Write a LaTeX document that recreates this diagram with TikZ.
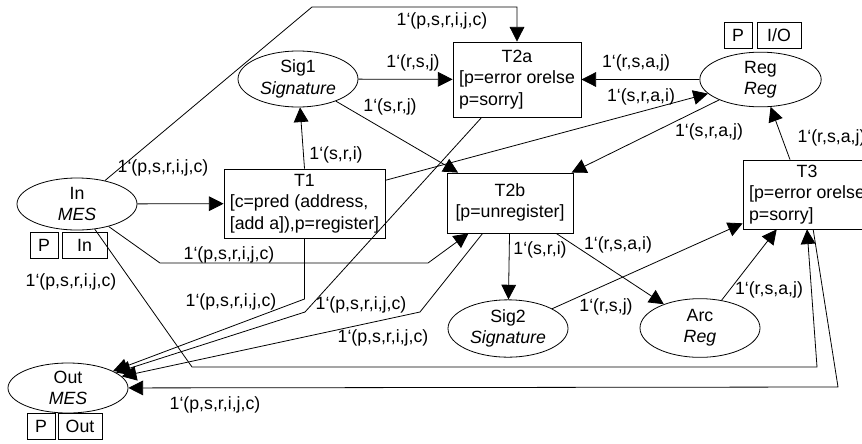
\documentclass[tikz,border=0pt]{standalone}
\usepackage{fontspec}
\setmainfont{Liberation Sans}
\usetikzlibrary{arrows.meta,shapes.geometric}
\begin{document}
\begin{tikzpicture}[x=0.75pt,y=-0.75pt,line width=0.6pt,
  every node/.style={font=\fontsize{13.3}{16}\selectfont},
  place/.style={draw,ellipse,align=center,inner xsep=0pt,inner ysep=-2pt,minimum width=90pt,minimum height=42pt},
  trans/.style={draw,rectangle,inner sep=0pt},
  port/.style={draw,rectangle,inner sep=0pt,minimum height=19.5pt},
  flow/.style={-{Triangle[length=11pt,width=11pt]}},
  inscr/.style={inner sep=0pt}]
\useasboundingbox (0,0) rectangle (862,443);
\clip (0,0) rectangle (862,443);

\node[place,minimum height=39pt] (In) at (77,204) {In\\\textit{MES}};
\node[place,minimum height=37.5pt] (Out) at (68,388) {Out\\\textit{MES}};
\node[place] (Sig1) at (298,79) {Sig1\\\textit{Signature}};
\node[place,minimum width=91pt,minimum height=41pt] (Reg) at (760.5,79.5) {Reg\\\textit{Reg}};
\node[place,minimum height=43pt] (Sig2) at (508,328.5) {Sig2\\\textit{Signature}};
\node[place,minimum height=44pt] (Arc) at (700,328) {Arc\\\textit{Reg}};

\node[trans,minimum width=120.75pt,minimum height=51.75pt] (T1) at (304.5,203.5)
  {\begin{tabular}{@{}l@{}}\multicolumn{1}{@{}c@{}}{T1}\\ {[}c=pred (address,\\ {[}add a]),p=register]\end{tabular}};
\node[trans,minimum width=96pt,minimum height=56.25pt] (T2a) at (517,79.5)
  {\begin{tabular}{@{}l@{}}\multicolumn{1}{@{}c@{}}{T2a}\\ {[}p=error orelse\\ p=sorry]\end{tabular}};
\node[trans,minimum width=94.5pt,minimum height=45pt] (T2b) at (510,203)
  {\begin{tabular}{@{}c@{}}T2b\\ {[}p=unregister]\end{tabular}};
\node[trans,minimum width=96pt,minimum height=51.75pt] (T3) at (807,194.5)
  {\begin{tabular}{@{}l@{}}\multicolumn{1}{@{}c@{}}{T3}\\ {[}p=error orelse\\ p=sorry]\end{tabular}};

\node[port,minimum width=21pt] (InP) at (44,245) {P};
\node[port,minimum width=33.75pt] (InPort) at (84.5,245) {In};
\node[port,minimum width=21pt] (OutP) at (41,426.5) {P};
\node[port,minimum width=33pt] (OutPort) at (80,426.5) {Out};
\node[port,minimum width=21pt] (RegP) at (738,35.5) {P};
\node[port,minimum width=33pt] (RegPort) at (779,35.5) {I/O};

\draw[flow] (In) -- (312,7) -| (T2a);
\draw[flow] (In) -- (T1);
\draw[flow] (In) -- (160,263) -- (428,263) -- (T2b);
\draw[flow] (In) -- (192,367) -- (817,367) -- (T3.south);
\draw[flow] (T3.-80) -- (838,387) -- (Out);
\draw[flow] (T1.north) -- (Sig1);
\draw[flow] (T1.16) -- (Reg);
\draw[flow] (T1.south) -- (304.5,299) -- (Out);
\draw[flow] (T2a.-133) -- (305,312) -- (Out);
\draw[flow] (T2b.-132) -- (420,312) -- (Out);
\draw[flow] (Sig1) -- (T2a);
\draw[flow] (Sig1) -- (T2b);
\draw[flow] (Reg) -- (T2a);
\draw[flow] (Reg) -- (T2b);
\draw[flow] (T3.116) -- (Reg);
\draw[flow] (T2b) -- (Sig2);
\draw[flow] (T2b) -- (Arc);
\draw[flow] (Sig2) -- (T3);
\draw[flow] (Arc) -- (T3.-131);

\node[inscr] (lInT2a) at (442,21) {1‘(p,s,r,i,j,c)};
\node[inscr] (lInT1) at (163,168) {1‘(p,s,r,i,j,c)};
\node[inscr] (lInT2b) at (229,255) {1‘(p,s,r,i,j,c)};
\node[inscr] (lInT3) at (71,282) {1‘(p,s,r,i,j,c)};
\node[inscr] (lT3Out) at (215,405) {1‘(p,s,r,i,j,c)};
\node[inscr] (lT1Out) at (231,302) {1‘(p,s,r,i,j,c)};
\node[inscr] (lT2aOut) at (361,305) {1‘(p,s,r,i,j,c)};
\node[inscr] (lT2bOut) at (383,338) {1‘(p,s,r,i,j,c)};
\node[inscr] (lT1Sig1) at (336,155) {1‘(s,r,i)};
\node[inscr] (lT1Reg) at (641,97) {1‘(s,r,a,i)};
\node[inscr] (lSig1T2a) at (413,63) {1‘(r,s,j)};
\node[inscr] (lSig1T2b) at (390,107) {1‘(s,r,j)};
\node[inscr] (lRegT2a) at (636,63) {1‘(r,s,a,j)};
\node[inscr] (lRegT2b) at (709,132) {1‘(s,r,a,j)};
\node[inscr] (lT3Reg) at (831.5,138) {1‘(r,s,a,j)};
\node[inscr] (lT2bSig2) at (540,250) {1‘(s,r,i)};
\node[inscr] (lT2bArc) at (618,245) {1‘(r,s,a,i)};
\node[inscr] (lSig2T3) at (606,307) {1‘(r,s,j)};
\node[inscr] (lArcT3) at (769,290) {1‘(r,s,a,j)};
\end{tikzpicture}
\end{document}
